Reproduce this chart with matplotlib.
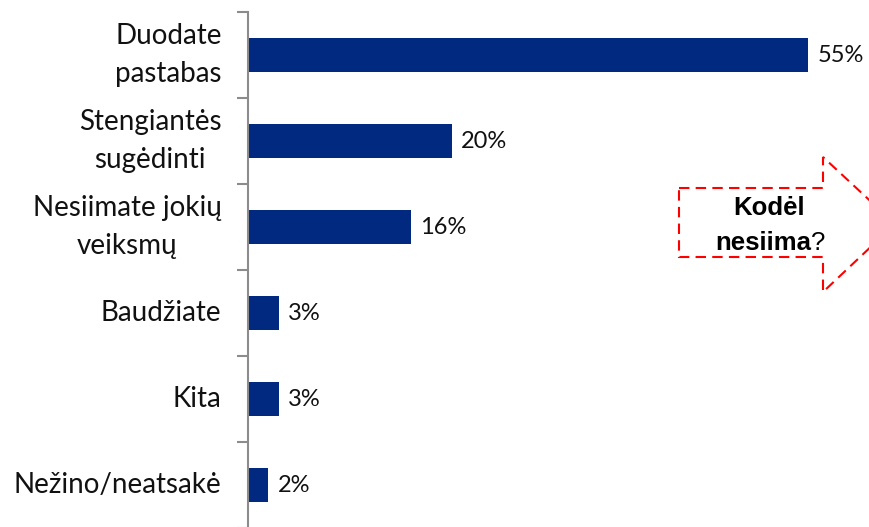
import matplotlib.pyplot as plt
from matplotlib.patches import Polygon

categories = ['Duodate\npastabas', 'Stengiantės\nsugėdinti', 'Nesiimate jokių\nveiksmų',
              'Baudžiate', 'Kita', 'Nežino/neatsakė']
values = [55, 20, 16, 3, 3, 2]
value_labels = ['55%', '20%', '16%', '3%', '3%', '2%']

W, H = 869, 527
bar_color = '#00297F'
axis_color = '#8C8C8C'

fig = plt.figure(figsize=(W / 100, H / 100), dpi=100)
ax = fig.add_axes([248 / W, 1 - 528 / H, 611 / W, 516 / H])

y = list(range(len(categories)))
ax.barh(y, values, height=0.4, color=bar_color)
ax.set_xlim(0, 60)
ax.set_ylim(len(categories) - 0.5, -0.5)

for yi, v, lab in zip(y, values, value_labels):
    ax.text(v + 0.9, yi, lab, va='center', ha='left', fontsize=17,
            family='Lato', color='#111111')

for yi, c in zip(y, categories):
    ax.text(-2.6, yi, c, va='center', ha='right', multialignment='center',
            fontsize=20, family='Lato', color='#111111', linespacing=1.6)

ax.set_yticks([i - 0.5 for i in range(len(categories) + 1)])
ax.set_yticklabels([])
ax.tick_params(axis='y', length=8, width=1.5, color=axis_color, direction='out')
ax.set_xticks([])
for s in ['top', 'right', 'bottom']:
    ax.spines[s].set_visible(False)
ax.spines['left'].set_color(axis_color)
ax.spines['left'].set_linewidth(1.5)

# red dashed arrow callout
pts = [(679, 188), (823, 188), (823, 157), (895, 224), (823, 292), (823, 257), (679, 257)]
arrow = Polygon([(px / W, 1 - py / H) for px, py in pts], closed=True,
                transform=fig.transFigure, fill=False, edgecolor='#FF0000',
                linewidth=1.5, linestyle=(0, (5, 3)))
fig.add_artist(arrow)

fig.text(769 / W, 1 - 215 / H, 'Kodėl', ha='center', va='baseline',
         fontsize=18.5, fontweight='bold', family='Liberation Sans')
fig.text(811 / W, 1 - 250 / H, 'nesiima', ha='right', va='baseline',
         fontsize=18.5, fontweight='bold', family='Liberation Sans')
fig.text(811 / W, 1 - 250 / H, '?', ha='left', va='baseline',
         fontsize=18.5, family='Liberation Sans')

fig.savefig('out.png', dpi=100)
